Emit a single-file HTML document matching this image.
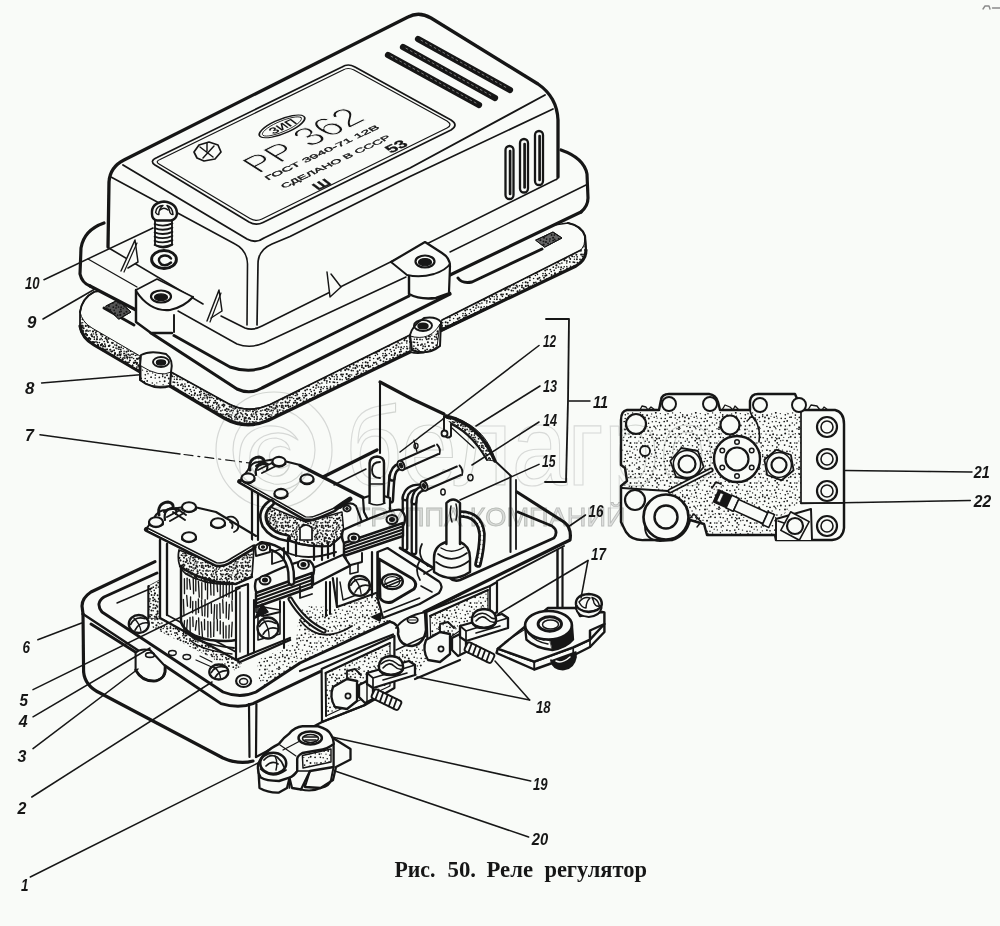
<!DOCTYPE html>
<html><head><meta charset="utf-8"><title>Рис. 50. Реле регулятор</title>
<style>
html,body{margin:0;padding:0;background:#f9fbf8;}
body{width:1000px;height:926px;overflow:hidden;font-family:"Liberation Sans",sans-serif;}
svg{display:block}
svg .ink path, svg .ink line, svg .ink ellipse, svg .ink circle, svg .ink rect, svg .ink polygon, svg .ink polyline{stroke:#161616;stroke-linecap:round;stroke-linejoin:round}
svg text{fill:#161616;stroke:none}
.num{font-family:"Liberation Sans",sans-serif;font-style:italic;font-weight:bold}
.cap{font-family:"Liberation Serif",serif;font-weight:bold}
</style></head><body>
<svg width="1000" height="926" viewBox="0 0 1000 926">
<defs><pattern id="st" width="40" height="40" patternUnits="userSpaceOnUse"><g fill="#161616" stroke="none"><circle cx="1.0" cy="2.9" r="0.91"/><circle cx="3.3" cy="6.0" r="0.80"/><circle cx="2.4" cy="10.8" r="0.67"/><circle cx="2.7" cy="14.9" r="0.80"/><circle cx="2.7" cy="16.6" r="0.80"/><circle cx="4.6" cy="21.3" r="0.98"/><circle cx="3.1" cy="24.7" r="0.65"/><circle cx="4.1" cy="31.2" r="0.78"/><circle cx="1.2" cy="33.8" r="0.65"/><circle cx="3.2" cy="37.8" r="0.82"/><circle cx="5.3" cy="1.3" r="0.72"/><circle cx="7.9" cy="5.4" r="0.65"/><circle cx="6.9" cy="10.2" r="0.87"/><circle cx="7.1" cy="15.3" r="0.95"/><circle cx="5.0" cy="17.5" r="0.90"/><circle cx="8.6" cy="23.2" r="0.79"/><circle cx="6.9" cy="26.5" r="0.75"/><circle cx="8.2" cy="31.0" r="0.94"/><circle cx="6.0" cy="34.2" r="0.65"/><circle cx="7.3" cy="38.8" r="0.79"/><circle cx="9.1" cy="2.1" r="0.89"/><circle cx="12.5" cy="5.7" r="0.80"/><circle cx="10.0" cy="10.8" r="0.83"/><circle cx="11.7" cy="14.0" r="0.65"/><circle cx="8.8" cy="18.6" r="0.99"/><circle cx="12.3" cy="21.7" r="0.70"/><circle cx="10.0" cy="27.3" r="0.92"/><circle cx="12.1" cy="31.0" r="0.72"/><circle cx="10.0" cy="35.2" r="0.85"/><circle cx="11.9" cy="37.4" r="0.84"/><circle cx="15.2" cy="0.7" r="0.92"/><circle cx="15.2" cy="40.7" r="0.92"/><circle cx="16.9" cy="7.1" r="0.91"/><circle cx="14.8" cy="10.1" r="0.84"/><circle cx="15.8" cy="12.8" r="0.95"/><circle cx="14.2" cy="17.2" r="0.82"/><circle cx="16.0" cy="21.6" r="0.76"/><circle cx="14.1" cy="26.3" r="0.86"/><circle cx="15.9" cy="28.7" r="0.72"/><circle cx="13.1" cy="34.2" r="0.95"/><circle cx="16.8" cy="38.8" r="0.93"/><circle cx="17.3" cy="2.9" r="0.88"/><circle cx="18.9" cy="4.7" r="0.65"/><circle cx="18.7" cy="9.3" r="0.68"/><circle cx="20.3" cy="13.6" r="0.67"/><circle cx="17.1" cy="18.1" r="0.70"/><circle cx="19.4" cy="22.6" r="0.80"/><circle cx="17.5" cy="25.9" r="0.65"/><circle cx="19.7" cy="29.8" r="0.71"/><circle cx="16.9" cy="35.1" r="0.82"/><circle cx="19.2" cy="38.3" r="0.93"/><circle cx="20.7" cy="0.7" r="0.69"/><circle cx="20.7" cy="40.7" r="0.69"/><circle cx="24.6" cy="5.1" r="0.89"/><circle cx="22.5" cy="10.1" r="0.72"/><circle cx="25.3" cy="14.8" r="0.83"/><circle cx="21.2" cy="18.4" r="0.78"/><circle cx="24.2" cy="21.5" r="0.87"/><circle cx="20.8" cy="25.5" r="0.99"/><circle cx="25.0" cy="29.5" r="0.95"/><circle cx="21.5" cy="35.2" r="0.91"/><circle cx="23.8" cy="37.3" r="0.64"/><circle cx="27.0" cy="0.7" r="0.93"/><circle cx="27.0" cy="40.7" r="0.93"/><circle cx="29.3" cy="6.2" r="0.70"/><circle cx="27.0" cy="11.3" r="0.89"/><circle cx="28.0" cy="13.7" r="0.76"/><circle cx="25.2" cy="18.5" r="0.80"/><circle cx="27.2" cy="20.9" r="0.88"/><circle cx="25.4" cy="26.0" r="0.76"/><circle cx="29.0" cy="31.1" r="0.65"/><circle cx="25.2" cy="33.5" r="1.00"/><circle cx="28.8" cy="37.6" r="0.72"/><circle cx="30.5" cy="2.9" r="0.98"/><circle cx="31.6" cy="7.0" r="0.89"/><circle cx="30.0" cy="11.3" r="0.72"/><circle cx="32.6" cy="12.9" r="0.70"/><circle cx="31.1" cy="17.2" r="0.91"/><circle cx="32.3" cy="22.9" r="0.77"/><circle cx="29.6" cy="25.4" r="0.95"/><circle cx="32.3" cy="31.2" r="0.96"/><circle cx="29.0" cy="34.1" r="0.68"/><circle cx="30.7" cy="36.8" r="0.95"/><circle cx="34.8" cy="2.9" r="0.76"/><circle cx="36.3" cy="6.8" r="0.78"/><circle cx="34.2" cy="9.2" r="0.67"/><circle cx="35.4" cy="15.1" r="0.84"/><circle cx="35.2" cy="17.9" r="0.74"/><circle cx="36.8" cy="22.9" r="0.64"/><circle cx="34.5" cy="24.9" r="0.68"/><circle cx="37.0" cy="28.7" r="0.73"/><circle cx="35.3" cy="33.8" r="0.68"/><circle cx="35.1" cy="37.3" r="0.91"/><circle cx="36.9" cy="3.1" r="0.78"/><circle cx="1.3" cy="7.1" r="0.75"/><circle cx="37.3" cy="9.9" r="0.68"/><circle cx="0.4" cy="12.7" r="0.64"/><circle cx="40.4" cy="12.7" r="0.64"/><circle cx="39.3" cy="17.4" r="0.85"/><circle cx="-0.7" cy="17.4" r="0.85"/><circle cx="39.9" cy="21.5" r="0.66"/><circle cx="-0.1" cy="21.5" r="0.66"/><circle cx="39.1" cy="27.3" r="0.99"/><circle cx="-0.9" cy="27.3" r="0.99"/><circle cx="38.9" cy="29.2" r="0.86"/><circle cx="39.3" cy="34.1" r="0.89"/><circle cx="-0.7" cy="34.1" r="0.89"/><circle cx="0.4" cy="37.3" r="0.83"/><circle cx="40.4" cy="37.3" r="0.83"/></g></pattern><pattern id="st2" width="40" height="40" patternUnits="userSpaceOnUse"><g fill="#161616" stroke="none"><circle cx="2.7" cy="2.7" r="0.74"/><circle cx="2.0" cy="5.5" r="1.02"/><circle cx="2.0" cy="7.2" r="0.97"/><circle cx="3.4" cy="11.0" r="0.78"/><circle cx="1.4" cy="13.6" r="1.01"/><circle cx="4.4" cy="18.1" r="0.94"/><circle cx="1.4" cy="19.4" r="0.73"/><circle cx="1.9" cy="23.0" r="0.85"/><circle cx="1.2" cy="27.2" r="0.93"/><circle cx="3.2" cy="28.5" r="0.73"/><circle cx="1.1" cy="31.4" r="0.93"/><circle cx="4.4" cy="35.8" r="0.79"/><circle cx="2.6" cy="39.2" r="1.02"/><circle cx="2.6" cy="-0.8" r="1.02"/><circle cx="5.7" cy="2.2" r="1.04"/><circle cx="5.8" cy="5.9" r="1.11"/><circle cx="3.7" cy="8.3" r="1.01"/><circle cx="6.1" cy="10.8" r="0.92"/><circle cx="5.7" cy="13.8" r="1.06"/><circle cx="5.8" cy="17.9" r="1.08"/><circle cx="4.5" cy="20.2" r="1.09"/><circle cx="6.7" cy="23.0" r="0.81"/><circle cx="4.2" cy="26.7" r="0.79"/><circle cx="7.2" cy="28.6" r="1.09"/><circle cx="4.1" cy="33.5" r="1.01"/><circle cx="6.2" cy="35.4" r="0.98"/><circle cx="4.8" cy="38.0" r="0.80"/><circle cx="7.7" cy="2.7" r="0.97"/><circle cx="8.1" cy="5.4" r="1.01"/><circle cx="8.7" cy="6.9" r="1.02"/><circle cx="8.1" cy="11.2" r="0.83"/><circle cx="7.0" cy="14.8" r="0.76"/><circle cx="9.3" cy="17.8" r="0.82"/><circle cx="6.9" cy="21.0" r="0.89"/><circle cx="9.8" cy="21.9" r="0.87"/><circle cx="6.8" cy="26.6" r="0.75"/><circle cx="10.4" cy="28.0" r="1.02"/><circle cx="6.5" cy="31.7" r="1.05"/><circle cx="8.3" cy="34.6" r="1.00"/><circle cx="7.4" cy="37.3" r="1.12"/><circle cx="9.9" cy="0.3" r="0.86"/><circle cx="9.9" cy="40.3" r="0.86"/><circle cx="12.6" cy="5.2" r="0.77"/><circle cx="10.3" cy="6.5" r="0.90"/><circle cx="13.0" cy="11.4" r="1.09"/><circle cx="11.4" cy="14.8" r="1.01"/><circle cx="12.2" cy="16.2" r="0.99"/><circle cx="10.3" cy="19.0" r="0.90"/><circle cx="13.3" cy="22.1" r="0.96"/><circle cx="10.5" cy="26.2" r="0.78"/><circle cx="13.5" cy="28.6" r="0.97"/><circle cx="10.6" cy="31.1" r="0.95"/><circle cx="11.4" cy="34.2" r="0.73"/><circle cx="9.9" cy="37.4" r="0.98"/><circle cx="13.9" cy="2.8" r="1.10"/><circle cx="16.7" cy="3.9" r="0.90"/><circle cx="13.2" cy="7.9" r="0.97"/><circle cx="16.2" cy="11.3" r="0.82"/><circle cx="13.6" cy="13.9" r="0.72"/><circle cx="14.2" cy="16.7" r="0.77"/><circle cx="14.4" cy="19.3" r="0.76"/><circle cx="14.6" cy="22.4" r="0.81"/><circle cx="13.9" cy="26.1" r="0.85"/><circle cx="15.8" cy="28.5" r="1.09"/><circle cx="15.0" cy="32.9" r="0.90"/><circle cx="15.4" cy="35.6" r="0.74"/><circle cx="13.6" cy="38.5" r="0.79"/><circle cx="15.9" cy="2.3" r="0.87"/><circle cx="18.5" cy="5.7" r="0.97"/><circle cx="16.4" cy="8.9" r="0.87"/><circle cx="17.2" cy="11.2" r="0.76"/><circle cx="16.4" cy="14.7" r="0.99"/><circle cx="17.2" cy="16.8" r="0.89"/><circle cx="16.9" cy="19.2" r="0.96"/><circle cx="17.4" cy="22.5" r="0.87"/><circle cx="18.0" cy="25.1" r="1.03"/><circle cx="17.7" cy="29.4" r="0.88"/><circle cx="16.8" cy="33.0" r="0.88"/><circle cx="17.5" cy="34.4" r="0.75"/><circle cx="17.8" cy="38.8" r="1.11"/><circle cx="20.5" cy="0.3" r="0.99"/><circle cx="20.5" cy="40.3" r="0.99"/><circle cx="22.3" cy="5.2" r="0.92"/><circle cx="19.6" cy="7.6" r="1.04"/><circle cx="20.9" cy="10.8" r="0.91"/><circle cx="21.2" cy="14.6" r="1.10"/><circle cx="22.4" cy="16.4" r="0.81"/><circle cx="20.0" cy="19.4" r="0.89"/><circle cx="22.0" cy="24.2" r="0.96"/><circle cx="20.8" cy="25.1" r="0.86"/><circle cx="22.8" cy="28.3" r="0.89"/><circle cx="18.9" cy="31.2" r="1.08"/><circle cx="22.8" cy="35.8" r="0.77"/><circle cx="19.5" cy="37.8" r="0.99"/><circle cx="23.5" cy="1.4" r="0.93"/><circle cx="23.6" cy="4.7" r="1.10"/><circle cx="23.7" cy="6.6" r="0.93"/><circle cx="25.2" cy="10.1" r="1.08"/><circle cx="23.0" cy="14.4" r="0.88"/><circle cx="25.9" cy="17.7" r="0.95"/><circle cx="22.2" cy="19.8" r="0.73"/><circle cx="24.9" cy="24.1" r="0.79"/><circle cx="23.1" cy="26.1" r="0.88"/><circle cx="25.2" cy="30.4" r="1.01"/><circle cx="23.0" cy="33.5" r="0.85"/><circle cx="25.3" cy="35.8" r="1.03"/><circle cx="24.0" cy="37.8" r="0.97"/><circle cx="25.9" cy="2.0" r="1.12"/><circle cx="28.0" cy="3.4" r="0.91"/><circle cx="26.7" cy="8.7" r="0.98"/><circle cx="28.5" cy="9.5" r="1.10"/><circle cx="26.7" cy="14.1" r="1.09"/><circle cx="28.7" cy="15.9" r="1.05"/><circle cx="26.8" cy="19.2" r="1.02"/><circle cx="27.9" cy="22.3" r="1.05"/><circle cx="25.2" cy="26.4" r="0.90"/><circle cx="27.1" cy="29.4" r="0.91"/><circle cx="25.4" cy="33.5" r="0.75"/><circle cx="26.4" cy="35.3" r="1.06"/><circle cx="26.6" cy="39.1" r="0.92"/><circle cx="26.6" cy="-0.9" r="0.92"/><circle cx="29.7" cy="1.1" r="0.83"/><circle cx="30.8" cy="3.4" r="0.75"/><circle cx="29.9" cy="6.8" r="1.02"/><circle cx="31.5" cy="10.5" r="0.99"/><circle cx="30.0" cy="14.8" r="0.77"/><circle cx="29.9" cy="16.6" r="0.91"/><circle cx="28.7" cy="18.7" r="0.95"/><circle cx="32.0" cy="22.7" r="0.94"/><circle cx="28.9" cy="26.0" r="1.07"/><circle cx="30.3" cy="29.6" r="0.92"/><circle cx="29.3" cy="33.4" r="0.75"/><circle cx="31.6" cy="34.9" r="0.98"/><circle cx="30.0" cy="38.9" r="0.88"/><circle cx="33.2" cy="0.5" r="0.98"/><circle cx="33.2" cy="40.5" r="0.98"/><circle cx="33.6" cy="4.7" r="1.06"/><circle cx="33.1" cy="8.0" r="0.84"/><circle cx="33.2" cy="10.7" r="0.81"/><circle cx="31.7" cy="15.0" r="0.77"/><circle cx="34.7" cy="16.6" r="0.87"/><circle cx="31.8" cy="18.9" r="0.91"/><circle cx="33.0" cy="22.9" r="0.84"/><circle cx="33.3" cy="27.2" r="0.90"/><circle cx="34.2" cy="30.3" r="0.85"/><circle cx="31.3" cy="31.6" r="0.80"/><circle cx="34.3" cy="35.1" r="0.86"/><circle cx="33.1" cy="37.8" r="1.05"/><circle cx="35.7" cy="1.3" r="1.05"/><circle cx="36.5" cy="5.6" r="1.09"/><circle cx="35.4" cy="8.2" r="1.10"/><circle cx="37.6" cy="11.4" r="1.07"/><circle cx="36.5" cy="14.5" r="1.12"/><circle cx="36.4" cy="17.2" r="0.99"/><circle cx="35.0" cy="19.7" r="0.79"/><circle cx="38.1" cy="22.7" r="0.91"/><circle cx="36.4" cy="25.3" r="1.11"/><circle cx="36.0" cy="28.0" r="0.86"/><circle cx="35.0" cy="33.4" r="1.08"/><circle cx="37.6" cy="35.2" r="0.94"/><circle cx="34.7" cy="39.3" r="0.88"/><circle cx="34.7" cy="-0.7" r="0.88"/><circle cx="37.9" cy="1.9" r="0.78"/><circle cx="39.5" cy="5.7" r="0.76"/><circle cx="-0.5" cy="5.7" r="0.76"/><circle cx="37.5" cy="6.9" r="0.82"/><circle cx="39.8" cy="10.1" r="0.86"/><circle cx="-0.2" cy="10.1" r="0.86"/><circle cx="37.8" cy="13.2" r="0.97"/><circle cx="39.6" cy="16.6" r="1.03"/><circle cx="-0.4" cy="16.6" r="1.03"/><circle cx="37.3" cy="19.1" r="1.06"/><circle cx="39.8" cy="23.8" r="0.77"/><circle cx="-0.2" cy="23.8" r="0.77"/><circle cx="38.5" cy="27.0" r="0.86"/><circle cx="0.7" cy="29.5" r="0.88"/><circle cx="40.7" cy="29.5" r="0.88"/><circle cx="39.7" cy="32.0" r="0.91"/><circle cx="-0.3" cy="32.0" r="0.91"/><circle cx="0.3" cy="34.9" r="1.06"/><circle cx="40.3" cy="34.9" r="1.06"/><circle cx="38.7" cy="38.7" r="0.94"/></g></pattern><pattern id="st3" width="40" height="40" patternUnits="userSpaceOnUse"><g fill="#161616" stroke="none"><circle cx="2.4" cy="5.4" r="0.58"/><circle cx="11.0" cy="16.3" r="0.50"/><circle cx="0.1" cy="28.4" r="0.55"/><circle cx="40.1" cy="28.4" r="0.55"/><circle cx="7.3" cy="40.0" r="0.61"/><circle cx="7.3" cy="-0.0" r="0.61"/><circle cx="18.4" cy="4.8" r="0.65"/><circle cx="16.5" cy="16.3" r="0.71"/><circle cx="15.2" cy="27.4" r="0.66"/><circle cx="15.6" cy="37.6" r="0.64"/><circle cx="23.0" cy="0.3" r="0.71"/><circle cx="23.0" cy="40.3" r="0.71"/><circle cx="29.7" cy="17.2" r="0.72"/><circle cx="27.1" cy="29.2" r="0.59"/><circle cx="33.0" cy="34.4" r="0.73"/><circle cx="38.8" cy="1.0" r="0.52"/><circle cx="38.8" cy="41.0" r="0.52"/><circle cx="37.2" cy="19.7" r="0.60"/><circle cx="36.3" cy="23.0" r="0.62"/><circle cx="38.9" cy="33.5" r="0.64"/></g></pattern><filter id="soft" x="0" y="0" width="1000" height="926" filterUnits="userSpaceOnUse"><feGaussianBlur stdDeviation="0.4"/></filter></defs>
<rect x="0" y="0" width="1000" height="926" fill="#f9fbf8" stroke="none"/>
<g class="ink" fill="none" filter="url(#soft)">
<path d="M94,292 Q82,298 80,312 L80,328 Q82,338 94,345 L140,372 L140,380 Q150,388 167,386 L170,386 L224,418 Q245,430 268,420.5 L410,352 Q424,356 438,346 L440,330 L576,266 Q586,260 586,250 L585,236 Q582,226 568,223 Z" stroke-width="1.59" fill="#f9fbf8" />
<path d="M80,312 L80,328 Q82,338 94,345 L140,372 L140,356 L92,328 Q82,322 80,312Z" stroke-width="0.98" fill="url(#st2)" />
<path d="M80,312 L80,328 Q82,338 94,345 L140,372 L140,356 L92,328 Q82,322 80,312Z" stroke-width="0.12" fill="url(#st)" style="stroke:none"/>
<path d="M80,312 L80,328 Q82,338 94,345 L140,372 L140,364 L92,336 Q82,330 80,318Z" stroke-width="0.12" fill="url(#st2)" style="stroke:none"/>
<path d="M171,372 L229,404 Q248,414 270,404.5 L410,335 L410,352 L268,420.5 Q245,430 224,418 L171,386Z" stroke-width="0.98" fill="url(#st2)" />
<path d="M200,389 L229,404 Q248,414 270,404.5 L300,390 L300,405 L268,420.5 Q245,430 224,418 L200,403Z" stroke-width="0.12" fill="url(#st)" style="stroke:none"/>
<path d="M442,320 L581,250 Q585,246 585,238 L586,250 Q586,260 576,266 L442,331Z" stroke-width="0.98" fill="url(#st2)" />
<path d="M80,326 Q82,338 94,345 L140,372" stroke-width="3.17" fill="none" />
<path d="M170,386 L224,418 Q245,430 268,420.5 L410,352" stroke-width="3.42" fill="none" />
<path d="M440,331 L576,266 Q586,260 586,250" stroke-width="3.17" fill="none" />
<path d="M94,292 Q82,298 80,312" stroke-width="1.95" fill="none" />
<path d="M171,372 L229,404 Q248,414 270,404.5 L410,335" stroke-width="1.71" fill="none" />
<path d="M442,320 L581,250" stroke-width="1.59" fill="none" />
<path d="M568,223 Q582,226 585,236 L586,250" stroke-width="2.2" fill="none" />
<path d="M458,278 Q462,284 472,282 L542,249" stroke-width="2.93" fill="none" />
<path d="M104,308 L134,325" stroke-width="2.93" fill="none" />
<path d="M106,306 L118,300 L131,312 L119,319Z" stroke-width="0.98" fill="#555" />
<path d="M106,306 L118,300 L131,312 L119,319Z" stroke-width="0.98" fill="url(#st2)" />
<path d="M536,240 L553,232 L562,238 L545,247Z" stroke-width="0.98" fill="#666" />
<path d="M536,240 L553,232 L562,238 L545,247Z" stroke-width="0.98" fill="url(#st2)" />
<path d="M141,355 Q150,350 166,354 Q174,360 171,372 L170,386 Q158,390 146,384 L140,380 L140,366 Z" stroke-width="1.95" fill="#f9fbf8" />
<path d="M141,366 L141,380 Q150,388 167,386 L170,386 L171,372 Q160,378 141,366Z" stroke-width="0.98" fill="url(#st)" />
<ellipse cx="161" cy="362" rx="8" ry="5" stroke-width="1.95" fill="none" />
<ellipse cx="161" cy="362.5" rx="4.5" ry="2.5" stroke-width="1.46" fill="#161616" />
<path d="M410,335 Q412,326 424,318 Q436,316 441,322 L440,346 Q428,356 412,350 Z" stroke-width="1.95" fill="#f9fbf8" />
<path d="M410,336 L411,350 Q424,356 437,347 L440,324 Q430,342 410,336Z" stroke-width="0.98" fill="url(#st2)" />
<ellipse cx="423" cy="325.5" rx="9" ry="5.5" stroke-width="1.95" fill="none" />
<ellipse cx="423" cy="326" rx="5" ry="2.8" stroke-width="1.46" fill="#161616" />
<path d="M104,223 Q84,230 81,248 L80,274 Q82,283 90,286 L136,310 L136,322 L151,333 L237,389 Q250,395 262,388 L450,294 L450,275 L581,212 Q588,206 588,198 L587,174 Q584,158 561,150 L430,100 L110,180 Z" stroke-width="0.12" fill="#f9fbf8" style="stroke:none"/>
<path d="M104,223 Q84,230 81,248 L80,274 Q82,283 90,286" stroke-width="3.17" fill="none" />
<path d="M90,286 L136,310" stroke-width="3.17" fill="none" />
<path d="M88,259 L137,287" stroke-width="1.34" fill="none" />
<path d="M151,333 L237,389 Q250,395 262,388 L450,294" stroke-width="3.17" fill="none" />
<path d="M174,335.5 L230,367 Q250,374 268,366 L409,296" stroke-width="2.93" fill="none" />
<path d="M178,311 L237,344 Q250,349 264,343 L406,277" stroke-width="1.46" fill="none" />
<path d="M561,150 Q584,158 587,174 L588,198 Q588,206 581,212" stroke-width="3.17" fill="none" />
<path d="M581,212 L450,275" stroke-width="3.17" fill="none" />
<path d="M586,185 L450,252" stroke-width="1.46" fill="none" />
<path d="M108,247 L109,182 Q110,167 124,160 L408,17 Q419,11 431,18 L538,84 Q557,97 558,120 L558,177 Q557,180 555,180 L262,326 Q253,331 245,328 L221,316 L108,247Z" stroke-width="0.12" fill="#f9fbf8" style="stroke:none"/>
<path d="M108,247 L109,182 Q110,167 124,160 L408,17 Q419,11 431,18 L538,84 Q557,97 558,120 L558,177" stroke-width="3.29" fill="none" />
<path d="M558,177 Q557,180 555,180 L262,326 Q253,331 245,328 L221,316" stroke-width="1.59" fill="none" />
<path d="M108,247.5 L203,304" stroke-width="1.59" fill="none" />
<path d="M123,165 L247,239 Q256,244 264,238 L330,206 L410,168 L545,95" stroke-width="1.83" fill="none" />
<path d="M111,177 L235,244 Q247,250 247.5,264 L247,325" stroke-width="1.59" fill="none" />
<path d="M553,109 L410,176.5 L330,216.5 L290,236.5 L272,244 Q258,250 258,264 L257,325" stroke-width="1.71" fill="none" />
<path d="M157,157.5 L342,67 Q348,63 355,67 L451,120 Q459,125 451,130 L263,222.5 Q256,226 249,222 L155,165 Q149,161 157,157.5Z" stroke-width="1.71" fill="none" />
<path d="M160,159.5 L343,70 Q348,67 354,70 L447,121 Q453,125 447,128 L262,219 Q256,222 250,218.5 L159,164 Q155,161.5 160,159.5Z" stroke-width="1.22" fill="none" />
<line x1="418" y1="39" x2="510" y2="90" stroke-width="6.2"/>
<line x1="421" y1="40.2" x2="507" y2="88" stroke-width="1" style="stroke:#777;stroke-dasharray:2 3"/>
<line x1="403" y1="47" x2="495" y2="98" stroke-width="6.2"/>
<line x1="406" y1="48.2" x2="492" y2="96" stroke-width="1" style="stroke:#777;stroke-dasharray:2 3"/>
<line x1="388" y1="55" x2="479" y2="105" stroke-width="6.2"/>
<line x1="391" y1="56.2" x2="476" y2="103" stroke-width="1" style="stroke:#777;stroke-dasharray:2 3"/>
<rect x="505.5" y="146" width="8.0" height="53" rx="4.0" stroke-width="2.3"/>
<line x1="510.1" y1="151" x2="510.1" y2="194" stroke-width="2.68"/>
<rect x="520.0" y="139" width="8.0" height="53.5" rx="4.0" stroke-width="2.3"/>
<line x1="524.6" y1="144" x2="524.6" y2="187.5" stroke-width="2.68"/>
<rect x="535.0" y="131" width="8.0" height="54" rx="4.0" stroke-width="2.3"/>
<line x1="539.6" y1="136" x2="539.6" y2="180" stroke-width="2.68"/>
<path d="M121,271 L135,240 L138,262 L128,268" stroke-width="1.46" fill="#f9fbf8" />
<path d="M124,272 L137,243" stroke-width="1.22" fill="none" />
<path d="M207,321 L219,290 L222,311 L211,318" stroke-width="1.46" fill="#f9fbf8" />
<path d="M210,322 L221,293" stroke-width="1.22" fill="none" />
<path d="M327,272 L330,297 L341,287 L331,274" stroke-width="1.46" fill="#f9fbf8" />
<path d="M136,290 L157,279 L193,297 Q186,308 174,310 L174,332 L152,333 L136,322Z" stroke-width="0.12" fill="#f9fbf8" style="stroke:none"/>
<path d="M136,290 L157,279 L193,297" stroke-width="1.59" fill="none" />
<path d="M193,297 Q184,307 170,310 Q150,312 136,291" stroke-width="2.2" fill="none" />
<path d="M136,290 L136,322 L151,333 L172,333" stroke-width="2.44" fill="none" />
<line x1="174" y1="315" x2="174" y2="332" stroke-width="1.95"/>
<ellipse cx="161" cy="296.5" rx="10" ry="6" stroke-width="2.2" fill="none" />
<ellipse cx="161" cy="297.3" rx="6.5" ry="3.4" stroke-width="1.22" fill="#161616" />
<path d="M391,262 L425,242 L442,253 Q450,258 450,266 L450,293 Q436,300 420,299 L409,295 L408,277Z" stroke-width="0.12" fill="#f9fbf8" style="stroke:none"/>
<path d="M391,262 L425,242 L442,253 Q450,258 450,266 L449,292" stroke-width="2.2" fill="none" />
<path d="M391,262 L407,275 Q420,278 434,274 Q446,270 450,264" stroke-width="1.83" fill="none" />
<path d="M409,277 L409,294 Q420,300 436,298 L450,293" stroke-width="2.44" fill="none" />
<ellipse cx="425" cy="261.5" rx="9.5" ry="6" stroke-width="2.2" fill="none" />
<ellipse cx="425" cy="262.2" rx="6.5" ry="3.6" stroke-width="1.22" fill="#161616" />
<path d="M155,220 L155,245 Q163.5,250 172,245 L172,220Z" stroke-width="1.83" fill="#f9fbf8" />
<path d="M154.6,224 Q163.5,227.4 172.4,223.4" stroke-width="1.83" fill="none" />
<path d="M154.6,228.2 Q163.5,231.6 172.4,227.6" stroke-width="1.83" fill="none" />
<path d="M154.6,232.4 Q163.5,235.8 172.4,231.8" stroke-width="1.83" fill="none" />
<path d="M154.6,236.6 Q163.5,240.0 172.4,236.0" stroke-width="1.83" fill="none" />
<path d="M154.6,240.8 Q163.5,244.20000000000002 172.4,240.20000000000002" stroke-width="1.83" fill="none" />
<path d="M154.6,245 Q163.5,248.4 172.4,244.4" stroke-width="1.83" fill="none" />
<path d="M152,214 Q151,203 164,201.5 Q177,203 177,214 Q176,219.5 171,220.5 L157,220.5 Q152,219.5 152,214Z" stroke-width="2.44" fill="#f9fbf8" />
<path d="M155.6,212.5 Q156.5,205.5 163,205.5 Q158.6,209 158.8,214.5 Q157,215 155.6,212.5Z" stroke-width="1.46" fill="none" />
<path d="M167,205.5 Q172.4,207 173,214.5 Q170,214.5 169.6,211 Q169,208 167,205.5Z" stroke-width="1.46" fill="none" />
<path d="M160,210 Q164,206.5 168,210" stroke-width="1.34" fill="none" />
<ellipse cx="164" cy="259.5" rx="12.4" ry="9" stroke-width="2.93" fill="#f9fbf8" />
<path d="M171,258.5 Q167,254 161,256.5 Q156.5,260 161.5,264.5 Q166.5,266.5 171,262.5" stroke-width="2.44" fill="none" />
<path d="M152.5,262 Q158,270 170,268" stroke-width="1.59" fill="none" />
<text transform="matrix(0.894,-0.447,0.846,0.533,258.4,173.9)" x="0" y="0" font-size="33" textLength="47" lengthAdjust="spacingAndGlyphs" style="font-family:'Liberation Sans',sans-serif;font-weight:normal;fill:#161616;stroke:#f9fbf8;stroke-width:1.0;">РР</text>
<text transform="matrix(0.894,-0.447,0.846,0.533,310,147.8)" x="0" y="0" font-size="36" textLength="64" lengthAdjust="spacingAndGlyphs" style="font-family:'Liberation Sans',sans-serif;font-weight:normal;fill:#161616;stroke:#f9fbf8;stroke-width:1.1;">362</text>
<text transform="matrix(0.905,-0.424,0.80,0.60,268,180.5)" x="0" y="0" font-size="7.8" textLength="124" lengthAdjust="spacingAndGlyphs" style="font-family:'Liberation Sans',sans-serif;font-weight:normal;fill:#161616;stroke:#161616;stroke-width:0.35;">ГОСТ 3940-71 12В</text>
<text transform="matrix(0.905,-0.424,0.80,0.60,284,188.5)" x="0" y="0" font-size="7.8" textLength="119" lengthAdjust="spacingAndGlyphs" style="font-family:'Liberation Sans',sans-serif;font-weight:normal;fill:#161616;stroke:#161616;stroke-width:0.35;">СДЕЛАНО В СССР</text>
<text transform="matrix(0.905,-0.424,0.80,0.60,318,190.5)" x="0" y="0" font-size="13" textLength="16" lengthAdjust="spacingAndGlyphs" style="font-family:'Liberation Sans',sans-serif;font-weight:bold;fill:#161616;stroke:#161616;stroke-width:0.35;">Ш</text>
<text transform="matrix(0.905,-0.424,0.80,0.60,391,153.5)" x="0" y="0" font-size="14" textLength="20" lengthAdjust="spacingAndGlyphs" style="font-family:'Liberation Sans',sans-serif;font-weight:bold;fill:#161616;stroke:#161616;stroke-width:0.35;">53</text>
<g transform="matrix(0.905,-0.424,0.80,0.60,282,126.4)">
<ellipse cx="0" cy="0" rx="24" ry="8.5" stroke-width="1.5"/>
<ellipse cx="0" cy="0" rx="21" ry="6.2" stroke-width="0.8"/>
<text x="-13" y="4.2" font-size="11.5" textLength="27" lengthAdjust="spacingAndGlyphs" style="font-family:'Liberation Sans',sans-serif;font-weight:bold;fill:#161616;stroke:none">ЗИП</text>
</g>
<path d="M194,152 L199,145 L209,142 L218,145 L221,152 L215,159 L204,161 L197,158Z" stroke-width="1.71" fill="none" />
<path d="M200,147 L213,157 M214,146 L203,158 M207,143 L207,151" stroke-width="1.46" fill="none" />
<path d="M627,410 L659,410 L661,400 Q662,394 669,394 L709,394 Q716,395 718,402 L720,410 L750,410 L750,401 Q751,394 758,394 L795,394 L802,410 L835,410 Q844,412 844,424 L844,528 Q843,539 832,540 L776,540 L775,535 L707,535 L704,524 L690,520 Q686,536 672,540 L645,540 Q632,541 626,532 L621,522 L621,486 L627,481 L625,468 L621,465 L621,420 Q621,411 627,410Z" stroke-width="2.44" fill="#f9fbf8" />
<path d="M623,412 L801,412 L801,503 L776,519 L775,535 L707,535 L704,524 L690,519 Q688,500 668,492 L623,488 L627,481 L625,468 L622,465Z" stroke-width="0.12" fill="url(#st)" style="stroke:none"/>
<path d="M623,412 L801,412 L801,503 L776,519 L775,535 L707,535 L704,524 L690,519 Q688,500 668,492 L623,488 L627,481 L625,468 L622,465Z" stroke-width="0.12" fill="url(#st3)" style="stroke:none"/>
<path d="M622,488 L668,491" stroke-width="1.83" fill="none" />
<line x1="801" y1="410" x2="801" y2="503" stroke-width="1.71"/>
<path d="M776,540 L776,519 L811,509 L812,540" stroke-width="1.95" fill="#f9fbf8" />
<line x1="801" y1="503" x2="844" y2="503" stroke-width="1.46"/>
<ellipse cx="669" cy="404" rx="7" ry="7" stroke-width="1.95" fill="#f9fbf8" />
<ellipse cx="710" cy="404" rx="7" ry="7" stroke-width="1.95" fill="#f9fbf8" />
<ellipse cx="760" cy="405" rx="7" ry="7" stroke-width="1.95" fill="#f9fbf8" />
<ellipse cx="799" cy="405" rx="7" ry="7" stroke-width="1.95" fill="#f9fbf8" />
<path d="M640,410 l2,-4 l4,1 l2,3 M648,410 l3,-3 l4,3 M722,410 l3,-5 l5,2 l3,3 M733,410 l2,-4 l4,4 M808,410 l3,-5 l6,1 l3,4 M822,410 l2,-3 l4,3" stroke-width="1.34" fill="none" />
<ellipse cx="636" cy="424" rx="10" ry="10" stroke-width="2.2" fill="#f9fbf8" />
<ellipse cx="730" cy="425" rx="9.5" ry="9.5" stroke-width="2.2" fill="#f9fbf8" />
<ellipse cx="635" cy="500" rx="10" ry="10" stroke-width="2.2" fill="#f9fbf8" />
<ellipse cx="645" cy="451" rx="5" ry="5" stroke-width="1.83" fill="#f9fbf8" />
<ellipse cx="827" cy="427" rx="10" ry="10" stroke-width="2.2" fill="#f9fbf8" />
<ellipse cx="827" cy="427" rx="6" ry="6" stroke-width="1.59" fill="none" />
<ellipse cx="827" cy="459" rx="10" ry="10" stroke-width="2.2" fill="#f9fbf8" />
<ellipse cx="827" cy="459" rx="6" ry="6" stroke-width="1.59" fill="none" />
<ellipse cx="827" cy="491" rx="10" ry="10" stroke-width="2.2" fill="#f9fbf8" />
<ellipse cx="827" cy="491" rx="6" ry="6" stroke-width="1.59" fill="none" />
<ellipse cx="827" cy="526" rx="10" ry="10" stroke-width="2.2" fill="#f9fbf8" />
<ellipse cx="827" cy="526" rx="6" ry="6" stroke-width="1.59" fill="none" />
<polygon points="703.7,467.0 692.8,480.0 676.1,477.0 670.3,461.0 681.2,448.0 697.9,451.0" stroke-width="1.8" fill="#f9fbf8"/>
<ellipse cx="687" cy="464" rx="13.600000000000001" ry="13.600000000000001" stroke-width="1.46" fill="none" />
<ellipse cx="687" cy="464" rx="8.5" ry="8.5" stroke-width="2.2" fill="#f9fbf8" />
<polygon points="793.6,470.3 781.7,480.3 767.1,475.0 764.4,459.7 776.3,449.7 790.9,455.0" stroke-width="1.8" fill="#f9fbf8"/>
<ellipse cx="779" cy="465" rx="12.4" ry="12.4" stroke-width="1.46" fill="none" />
<ellipse cx="779" cy="465" rx="7.5" ry="7.5" stroke-width="2.2" fill="#f9fbf8" />
<ellipse cx="737" cy="459" rx="23" ry="23" stroke-width="2.44" fill="#f9fbf8" />
<ellipse cx="737" cy="459" rx="11.5" ry="11.5" stroke-width="2.2" fill="none" />
<ellipse cx="751.7" cy="467.5" rx="2.3" ry="2.3" stroke-width="1.46" fill="none" />
<ellipse cx="737.0" cy="476.0" rx="2.3" ry="2.3" stroke-width="1.46" fill="none" />
<ellipse cx="722.3" cy="467.5" rx="2.3" ry="2.3" stroke-width="1.46" fill="none" />
<ellipse cx="722.3" cy="450.5" rx="2.3" ry="2.3" stroke-width="1.46" fill="none" />
<ellipse cx="737.0" cy="442.0" rx="2.3" ry="2.3" stroke-width="1.46" fill="none" />
<ellipse cx="751.7" cy="450.5" rx="2.3" ry="2.3" stroke-width="1.46" fill="none" />
<path d="M750,410 Q751,416 755,419 Q761,430 759,442" stroke-width="1.59" fill="none" />
<path d="M748,420 l4,-4 l3,5" stroke-width="1.22" fill="none" />
<path d="M670,491 L711,470" stroke-width="5.12" fill="none" />
<path d="M670,491 L711,470" stroke-width="1.6" style="stroke:#f9fbf8"/>
<ellipse cx="666" cy="517" rx="22.5" ry="22.5" stroke-width="2.68" fill="#f9fbf8" />
<ellipse cx="666" cy="517" rx="11.5" ry="11.5" stroke-width="2.44" fill="none" />
<path d="M645,527 Q645,540 660,541 L672,540" stroke-width="1.83" fill="none" />
<path d="M688,520 l6,-6 l7,8 l-4,5" stroke-width="1.46" fill="none" />
<g transform="rotate(24.5 720 497)">
<rect x="716" y="491" width="14" height="13" stroke-width="1.6" fill="#161616"/>
<rect x="719" y="493" width="3" height="9" stroke-width="0.5" fill="#f9fbf8"/>
<rect x="730" y="490.5" width="8" height="14" stroke-width="1.6" fill="#f9fbf8"/>
<rect x="738" y="491.5" width="32" height="12" stroke-width="1.6" fill="#f9fbf8"/>
<rect x="770" y="490.5" width="7" height="14" stroke-width="1.6" fill="#f9fbf8"/>
</g>
<path d="M778,521 l6,2 M712,488 l4,-6 l5,2" stroke-width="1.59" fill="none" />
<rect x="784.5" y="515.5" width="21" height="21" stroke-width="1.6" fill="#f9fbf8" transform="rotate(28 795 526)"/>
<ellipse cx="795" cy="526" rx="8" ry="8" stroke-width="2.2" fill="#f9fbf8" />
<path d="M155,562 L91,592 Q82,598 82,606 L83.6,672 Q85,686 100,693 L223,758 Q239,765 256,759 L322,722 L500,642 L562,608 L570,540 Q573,530 564,522 L517,492 L380,560Z" stroke-width="0.12" fill="#f9fbf8" style="stroke:none"/>
<path d="M380,382 L445,414 L495,461 L512,477 L516,552 L380,600Z" stroke-width="0.12" fill="#f9fbf8" style="stroke:none"/>
<line x1="380" y1="382" x2="380" y2="453" stroke-width="2.07"/>
<path d="M380,382 L412,399 L444,414" stroke-width="3.17" fill="none" />
<path d="M494,460 L511,476" stroke-width="1.83" fill="none" />
<line x1="510.5" y1="476" x2="510.5" y2="552" stroke-width="2.07"/>
<line x1="516" y1="480" x2="516" y2="549" stroke-width="1.83"/>
<path d="M443,419 Q470,428 487,460 L495,461 Q488,430 456,418 Z" stroke-width="0.98" fill="url(#st2)" />
<path d="M443,419 Q470,428 487,460 L495,461 Q488,430 456,418 Z" stroke-width="0.12" fill="url(#st)" style="stroke:none"/>
<path d="M446,416 Q480,424 495,461" stroke-width="3.42" fill="none" />
<path d="M444,421 Q470,430 487,460" stroke-width="1.95" fill="none" />
<path d="M444,416 L444,434 Q447,440 451,436 L451,424" stroke-width="1.95" fill="#f9fbf8" />
<ellipse cx="444.5" cy="433.5" rx="3" ry="3" stroke-width="1.83" fill="#f9fbf8" />
<path d="M452,428 L474,448" stroke-width="1.22" fill="none" />
<path d="M323,477 L377,450" stroke-width="3.17" fill="none" />
<path d="M334,485 L366,469" stroke-width="1.46" fill="none" />
<ellipse cx="470.4" cy="477.6" rx="2.6" ry="3.2" stroke-width="1.46" fill="none" />
<ellipse cx="443" cy="492" rx="2.2" ry="3" stroke-width="1.46" fill="none" />
<ellipse cx="416" cy="446" rx="2" ry="2.6" stroke-width="1.34" fill="none" />
<path d="M414,440 L417,452" stroke-width="1.22" fill="none" />
<path d="M258,660 L296,642 L300,606 L332,607 L376,593 L380,600 L384,618 L390,621.6 L300,663 L264,686 Q256,680 258,660Z" stroke-width="0.12" fill="url(#st)" style="stroke:none"/>
<path d="M258,660 L296,642 L300,606 L332,607 L376,593 L380,600 L384,618 L390,621.6 L300,663 L264,686 Q256,680 258,660Z" stroke-width="0.12" fill="url(#st3)" style="stroke:none"/>
<path d="M150,612 L160,617 L242,663 L238,672 L150,626Z" stroke-width="0.12" fill="url(#st2)" style="stroke:none"/>
<path d="M155,561.6 L91,592 Q82,598 82,606 L83,614" stroke-width="3.17" fill="none" />
<path d="M83,614 L139,651" stroke-width="2.44" fill="none" />
<path d="M91,624 L137,653" stroke-width="2.93" fill="none" />
<path d="M164.5,665.5 L221,703.6 Q239,709 253,703.6 L320,671.6" stroke-width="2.93" fill="none" />
<path d="M157,573 L104,597 Q95,603 102,612 L223,692 Q240,699 256,692 L300,663 L389.6,621.6" stroke-width="2.93" fill="none" />
<path d="M300,671 L393,634.5" stroke-width="2.2" fill="none" />
<path d="M83,614 L83.6,672 Q85,686 100,693 L223,758 Q239,765 253,761" stroke-width="3.17" fill="none" />
<line x1="249" y1="704" x2="249.5" y2="757" stroke-width="2.2"/>
<line x1="256.4" y1="704" x2="256" y2="757" stroke-width="2.2"/>
<path d="M117,603 L152,588" stroke-width="1.46" fill="none" />
<path d="M148.4,586 L148.4,618" stroke-width="1.95" fill="none" />
<path d="M148.4,586 L159.6,580 L159.6,619 L148.4,618Z" stroke-width="0.73" fill="url(#st2)" />
<path d="M517,492 L564,522 Q572,528 570,540 L424,612" stroke-width="3.17" fill="none" />
<path d="M518,512 L552,526 Q559,531 554,538 L460,580 Q454,582 450,578 L400,548" stroke-width="2.68" fill="none" />
<path d="M564,546 L497,581" stroke-width="1.95" fill="none" />
<line x1="557.5" y1="550" x2="557.5" y2="607" stroke-width="2.44"/>
<line x1="562.5" y1="548" x2="562.5" y2="607" stroke-width="2.2"/>
<path d="M389.6,621.6 Q400,624 398,634 Q400,646 412,646 Q424,644 426,630 L425,612" stroke-width="2.44" fill="#f9fbf8" />
<path d="M396,628 Q404,616 426,612" stroke-width="1.83" fill="none" />
<ellipse cx="412.6" cy="620" rx="5.2" ry="3.2" stroke-width="1.83" fill="none" />
<path d="M409,620 L416,620" stroke-width="1.22" fill="none" />
<line x1="425" y1="612" x2="460" y2="594.4" stroke-width="2.68"/>
<path d="M387.5,548 L439,581.5 Q444,586 439,593 L419.6,604 L383,618 L377.6,598 L377.6,552Z" stroke-width="2.2" fill="#f9fbf8" />
<path d="M379,559 L412.6,578.8 Q418,584 414,589 L392,602 Q384,604 380,598 Z" stroke-width="2.93" fill="#f9fbf8" />
<path d="M421,586 L432,592 M384,612 L419.6,598" stroke-width="1.59" fill="none" />
<ellipse cx="392.3" cy="581.6" rx="10.5" ry="7.5" stroke-width="2.44" fill="#f9fbf8" />
<path d="M384,584.5 L400,578 M385.5,587 L401,580.5" stroke-width="1.59" fill="none" />
<ellipse cx="392.3" cy="581.6" rx="7.5" ry="5" stroke-width="1.22" fill="none" />
<path d="M372,617 L381,613 L380,621Z" stroke-width="1.71" fill="#161616" />
<path d="M460,514 Q480,514 482,534 Q482,548 478,564" stroke-width="7.56" fill="none" />
<path d="M460,514 Q480,514 482,534 Q482,548 478,564" stroke-width="2.2" style="stroke:#f9fbf8;stroke-dasharray:2.5 2"/>
<path d="M434,558 Q434,546 446,542 L460,542 Q470,546 470,558 L470,572 Q452,584 434,572Z" stroke-width="2.44" fill="#f9fbf8" />
<path d="M436,562 Q452,574 469,561" stroke-width="1.71" fill="none" />
<path d="M438,554 Q452,564 467,553" stroke-width="1.71" fill="none" />
<path d="M441,548 Q452,555 464,547" stroke-width="1.46" fill="none" />
<path d="M446.4,544 L446.4,503 Q453,496 460,503 L460,544" stroke-width="2.44" fill="#f9fbf8" />
<path d="M451,506 Q449,514 452,522 M456,504 Q458,512 456,520" stroke-width="1.46" fill="none" />
<path d="M428,566 Q416,556 422,544 M424,574 L434,568 M420,560 Q414,570 420,580" stroke-width="1.71" fill="none" />
<path d="M392,476 Q391,488 390.4,500" stroke-width="7.56" fill="none" />
<path d="M392,476 Q391,488 390.4,500" stroke-width="2.6" style="stroke:#f9fbf8"/>
<path d="M400,466 Q393,468 392,478" stroke-width="7.56" fill="none" />
<path d="M400,466 Q393,468 392,478" stroke-width="2.6" style="stroke:#f9fbf8"/>
<path d="M405,497 L405,548" stroke-width="6.83" fill="none" />
<path d="M405,497 L405,548" stroke-width="2.2" style="stroke:#f9fbf8"/>
<path d="M422,487 Q407,486 405,498" stroke-width="6.83" fill="none" />
<path d="M422,487 Q407,486 405,498" stroke-width="2.2" style="stroke:#f9fbf8"/>
<path d="M414,500 L414,552" stroke-width="6.83" fill="none" />
<path d="M414,500 L414,552" stroke-width="2.2" style="stroke:#f9fbf8"/>
<path d="M424,488 Q414.5,490 414,502" stroke-width="6.83" fill="none" />
<path d="M424,488 Q414.5,490 414,502" stroke-width="2.2" style="stroke:#f9fbf8"/>
<line x1="401" y1="465.5" x2="437" y2="449.5" stroke-width="11.6" style="stroke-linecap:butt"/>
<line x1="401" y1="465.5" x2="438.3" y2="448.9" stroke-width="7.2" style="stroke:#f9fbf8;stroke-linecap:butt"/>
<ellipse cx="401" cy="465.5" rx="3.2" ry="5" stroke-width="1.95" fill="#f9fbf8" transform="rotate(-24 401 465.5)" />
<ellipse cx="401" cy="465.5" rx="1.4" ry="2.4" stroke-width="1.22" fill="#161616" transform="rotate(-24 401 465.5)" />
<path d="M437,444.5 Q441,448.5 439.5,454.1" stroke-width="1.8"/>
<line x1="424" y1="486" x2="459.5" y2="470.5" stroke-width="11.6" style="stroke-linecap:butt"/>
<line x1="424" y1="486" x2="460.8" y2="469.9" stroke-width="7.2" style="stroke:#f9fbf8;stroke-linecap:butt"/>
<ellipse cx="424" cy="486" rx="3.2" ry="5" stroke-width="1.95" fill="#f9fbf8" transform="rotate(-24 424 486)" />
<ellipse cx="424" cy="486" rx="1.4" ry="2.4" stroke-width="1.22" fill="#161616" transform="rotate(-24 424 486)" />
<path d="M459.5,465.5 Q463.5,469.5 462.0,475.1" stroke-width="1.8"/>
<path d="M363,498 Q377,492 390,498 L390,510 L384,524 L370,524 L364,512Z" stroke-width="2.2" fill="#f9fbf8" />
<path d="M369.6,502 L369.6,463 Q370,457 377,456.5 Q384,457 384,463 L384,502" stroke-width="2.44" fill="#f9fbf8" />
<path d="M380,462 Q372,462 372,470 Q372,478 380,478" stroke-width="1.83" fill="none" />
<path d="M369.6,484 L384,484" stroke-width="1.34" fill="none" />
<path d="M369,503 Q377,507 385,503" stroke-width="1.59" fill="none" />
<path d="M252,489 L252,540 M258,492 L258,540" stroke-width="2.2" fill="none" />
<path d="M372,552 L372,596 M377.6,552 L377.6,598" stroke-width="2.2" fill="none" />
<path d="M332.8,578 L337,607 L376,593" stroke-width="2.2" fill="none" />
<path d="M340,582 L343,600 L372,589" stroke-width="1.46" fill="none" />
<ellipse cx="359.4" cy="585.8" rx="10.5" ry="10" stroke-width="2.32" fill="#f9fbf8" />
<g transform="rotate(-20 359.4 585.8)">
<path d="M351.5,582.3 Q359.4,575.8 367.8,583.3 M353.1,590.3 Q360.4,583.8 368.3,588.8" stroke-width="1.71" fill="none" />
<path d="M357.3,577.8 Q360.4,585.8 358.3,593.8" stroke-width="1.34" fill="none" />
</g>
<path d="M268,506 Q262,522 280,536 Q300,548 330,546 L344,534 L342,512 L306,522Z" stroke-width="1.46" fill="url(#st2)" />
<path d="M268,506 Q262,522 280,536 Q300,548 330,546 L344,534 L342,512 L306,522Z" stroke-width="0.12" fill="url(#st)" style="stroke:none"/>
<path d="M280,536 Q300,548 330,546 L344,534" stroke-width="2.2" fill="none" />
<path d="M240,480 L254,461 L300,465 L350,498 L334,510 Q320,518 305,518Z" stroke-width="0.12" fill="#f9fbf8" style="stroke:none"/>
<path d="M240,481 L248,470 Q252,462 258,462 L276,459 L300,465" stroke-width="2.07" fill="none" />
<path d="M300,465.5 L363,497.5" stroke-width="3.42" fill="none" />
<path d="M239.6,481.5 L305,518.6 Q312,520 320,516 L334,510 Q342,504 350,499" stroke-width="4.88" fill="none" />
<path d="M241.5,482 L305,518 Q312,519.5 320,515.5 L334,509.5" stroke-width="1.0" style="stroke:#f9fbf8"/>
<path d="M272.5,461.5 L272.5,464.0 Q279,469.5 285.5,464.0 L285.5,461.5" stroke-width="1.83" fill="#f9fbf8" />
<ellipse cx="279" cy="461.5" rx="6.5" ry="4.6" stroke-width="2.07" fill="#f9fbf8" />
<path d="M300.5,479 L300.5,481.5 Q307,487 313.5,481.5 L313.5,479" stroke-width="1.83" fill="#f9fbf8" />
<ellipse cx="307" cy="479" rx="6.5" ry="4.6" stroke-width="2.07" fill="#f9fbf8" />
<path d="M274.5,493.5 L274.5,496.0 Q281,501.5 287.5,496.0 L287.5,493.5" stroke-width="1.83" fill="#f9fbf8" />
<ellipse cx="281" cy="493.5" rx="6.5" ry="4.6" stroke-width="2.07" fill="#f9fbf8" />
<path d="M241.5,478 L241.5,480.5 Q248,486 254.5,480.5 L254.5,478" stroke-width="1.83" fill="#f9fbf8" />
<ellipse cx="248" cy="478" rx="6.5" ry="4.6" stroke-width="2.07" fill="#f9fbf8" />
<path d="M256,466 Q262,460 268,464 M258,470 L272,463 M262,473 L276,466" stroke-width="1.95" fill="none" />
<path d="M250,470 Q248,458 259,457 Q265,458 264,463" stroke-width="2.93" fill="none" />
<path d="M256,475 Q254,466 263,464 Q269,464 267,470" stroke-width="2.2" fill="none" />
<path d="M271,503 Q259,512 265,525 Q272,536 287,538" stroke-width="8.05" fill="none" />
<path d="M271,503 Q259,512 265,525 Q272,536 287,538" stroke-width="2.8" style="stroke:#f9fbf8"/>
<path d="M340,508 Q350,500 356,506 L366,533 L350,529" stroke-width="2.07" fill="none" />
<ellipse cx="347" cy="508.5" rx="3.6" ry="3" stroke-width="1.95" fill="#f9fbf8" />
<ellipse cx="347" cy="508.5" rx="1.2" ry="1" stroke-width="1.22" fill="#161616" />
<path d="M288,538 L288,552 M296,540 L296,556 M314,544 L314,560 M322,544 L322,560 M328,542 L328,558 M334,540 L334,556" stroke-width="2.2" fill="none" />
<path d="M286,552 Q306,562 336,552" stroke-width="1.95" fill="none" />
<path d="M300,528 Q306,522 312,528 L312,540 L300,540Z" stroke-width="1.71" fill="#f9fbf8" />
<path d="M343,530 Q340,539 346,546 L403,526 Q408,517 401,510 Q394,507 343,530Z" stroke-width="2.44" fill="#f9fbf8" />
<path d="M344,543 L403,523 L403,536 L344,556Z" stroke-width="2.44" fill="#f9fbf8" />
<path d="M344,546.2 L403,526.2" stroke-width="2.07" fill="none" />
<path d="M344,549.5 L403,529.5" stroke-width="2.07" fill="none" />
<path d="M344,552.8 L403,532.8" stroke-width="2.07" fill="none" />
<ellipse cx="353.8" cy="538" rx="5.5" ry="4.4" stroke-width="2.07" fill="#f9fbf8" />
<ellipse cx="353.8" cy="538" rx="2.4" ry="1.9" stroke-width="1.22" fill="#161616" />
<ellipse cx="392" cy="519.5" rx="5.5" ry="4.4" stroke-width="2.07" fill="#f9fbf8" />
<ellipse cx="392" cy="519.5" rx="2.4" ry="1.9" stroke-width="1.22" fill="#161616" />
<path d="M346,558 L347,566 L362,562 L362,553" stroke-width="1.95" fill="#f9fbf8" />
<path d="M350,566 L350,574 L358,572 L358,564" stroke-width="1.59" fill="none" />
<path d="M313,568 L343,554.8 L350.2,565.6 L313,584.8Z" stroke-width="2.32" fill="#f9fbf8" />
<path d="M256,580 Q253,590 259,596 L312,577 Q317,568 310,561 Q300,558 256,580Z" stroke-width="2.44" fill="#f9fbf8" />
<path d="M256,593 L312,573 L312,587 L256,607Z" stroke-width="2.44" fill="#f9fbf8" />
<path d="M256,596.5 L312,576.5" stroke-width="2.07" fill="none" />
<path d="M256,600.0 L312,580.0" stroke-width="2.07" fill="none" />
<path d="M256,603.5 L312,583.5" stroke-width="2.07" fill="none" />
<ellipse cx="265" cy="580" rx="5.5" ry="4.4" stroke-width="2.07" fill="#f9fbf8" />
<ellipse cx="265" cy="580" rx="2.4" ry="1.9" stroke-width="1.22" fill="#161616" />
<ellipse cx="303.4" cy="564.4" rx="5.5" ry="4.4" stroke-width="2.07" fill="#f9fbf8" />
<ellipse cx="303.4" cy="564.4" rx="2.4" ry="1.9" stroke-width="1.22" fill="#161616" />
<path d="M262,607 L263,616 L280,612 L280,601" stroke-width="1.95" fill="#f9fbf8" />
<path d="M256,600 L256,612 L262,616" stroke-width="1.71" fill="none" />
<path d="M262,545 Q288,548 291,572 L291.4,582" stroke-width="7.81" fill="none" />
<path d="M262,545 Q288,548 291,572 L291.4,582" stroke-width="3.0" style="stroke:#f9fbf8"/>
<path d="M255,546 Q262,540 270,546 L270,552 L256,556Z" stroke-width="1.95" fill="#f9fbf8" />
<ellipse cx="263" cy="547" rx="4.2" ry="3.4" stroke-width="1.83" fill="#f9fbf8" />
<ellipse cx="263" cy="547" rx="1.5" ry="1.2" stroke-width="1.22" fill="#161616" />
<path d="M272,552 L284,548 L284,560 L272,564Z" stroke-width="1.83" fill="none" />
<path d="M300,586 L300,598 L312,594" stroke-width="1.83" fill="none" />
<path d="M255,618 L268,612 L262,604Z" stroke-width="1.46" fill="#161616" />
<path d="M326,582 L326,616 M330,582 L330,614" stroke-width="2.07" fill="none" />
<path d="M337,578 L337,604" stroke-width="1.71" fill="none" />
<path d="M290.2,599 Q304,622 324,631" stroke-width="5.37" fill="none" />
<path d="M290.2,599 Q304,622 324,631" stroke-width="1.4" style="stroke:#f9fbf8"/>
<path d="M300,620 Q320,646 352,626" stroke-width="1.83" fill="none" />
<path d="M160,540 L160,618 M167,544 L167,615" stroke-width="2.32" fill="none" />
<path d="M160,618 L240,662 L290,640" stroke-width="2.44" fill="none" />
<path d="M167,615 L236,652" stroke-width="1.71" fill="none" />
<path d="M181,566 L181,622 Q190,640 234,642 L234,586 Z" stroke-width="0.12" fill="#f9fbf8" style="stroke:none"/>
<line x1="181" y1="566" x2="181" y2="622" stroke-width="2.44"/>
<path d="M181,622 Q186,636 210,640 Q228,642 236,640" stroke-width="2.68" fill="none" />
<path d="M186,632 Q196,644 234,648" stroke-width="1.95" fill="none" />
<path d="M190,640 Q200,650 232,654" stroke-width="1.46" fill="none" />
<line x1="184.4" y1="578.7" x2="184.5" y2="593.7" stroke-width="1.34"/>
<line x1="183.4" y1="599.4" x2="184.0" y2="615.8" stroke-width="1.34"/>
<line x1="184.5" y1="620.7" x2="183.5" y2="634.9" stroke-width="1.34"/>
<line x1="187.1" y1="578.2" x2="187.1" y2="589.1" stroke-width="1.34"/>
<line x1="186.7" y1="595.4" x2="187.5" y2="606.2" stroke-width="1.34"/>
<line x1="187.4" y1="620.0" x2="186.6" y2="630.2" stroke-width="1.34"/>
<line x1="189.4" y1="579.4" x2="190.4" y2="589.4" stroke-width="1.34"/>
<line x1="190.6" y1="597.0" x2="190.4" y2="607.7" stroke-width="1.34"/>
<line x1="190.0" y1="617.5" x2="190.2" y2="634.1" stroke-width="1.34"/>
<line x1="193.2" y1="577.3" x2="193.6" y2="593.8" stroke-width="1.34"/>
<line x1="192.8" y1="601.4" x2="192.6" y2="612.8" stroke-width="1.34"/>
<line x1="192.8" y1="617.0" x2="193.1" y2="626.5" stroke-width="1.34"/>
<line x1="195.8" y1="576.5" x2="195.8" y2="590.9" stroke-width="1.34"/>
<line x1="195.8" y1="601.4" x2="196.0" y2="614.2" stroke-width="1.34"/>
<line x1="196.6" y1="620.7" x2="195.4" y2="630.1" stroke-width="1.34"/>
<line x1="198.4" y1="581.3" x2="199.3" y2="597.1" stroke-width="1.34"/>
<line x1="198.4" y1="599.0" x2="198.5" y2="612.6" stroke-width="1.34"/>
<line x1="198.6" y1="617.9" x2="199.3" y2="634.5" stroke-width="1.34"/>
<line x1="201.8" y1="582.7" x2="201.8" y2="599.3" stroke-width="1.34"/>
<line x1="201.5" y1="600.3" x2="202.3" y2="615.5" stroke-width="1.34"/>
<line x1="201.4" y1="621.9" x2="202.5" y2="637.8" stroke-width="1.34"/>
<line x1="205.1" y1="578.1" x2="205.5" y2="589.8" stroke-width="1.34"/>
<line x1="205.1" y1="599.6" x2="204.8" y2="616.0" stroke-width="1.34"/>
<line x1="204.5" y1="619.4" x2="204.6" y2="629.8" stroke-width="1.34"/>
<line x1="207.6" y1="582.0" x2="207.5" y2="599.0" stroke-width="1.34"/>
<line x1="207.9" y1="603.8" x2="207.7" y2="617.1" stroke-width="1.34"/>
<line x1="207.9" y1="621.4" x2="207.9" y2="637.1" stroke-width="1.34"/>
<line x1="210.4" y1="578.6" x2="211.0" y2="594.9" stroke-width="1.34"/>
<line x1="211.3" y1="603.3" x2="211.5" y2="613.3" stroke-width="1.34"/>
<line x1="210.5" y1="622.0" x2="210.9" y2="637.3" stroke-width="1.34"/>
<line x1="213.8" y1="579.5" x2="213.9" y2="595.3" stroke-width="1.34"/>
<line x1="214.6" y1="604.6" x2="213.9" y2="620.4" stroke-width="1.34"/>
<line x1="214.0" y1="621.5" x2="213.7" y2="636.4" stroke-width="1.34"/>
<line x1="216.9" y1="581.4" x2="217.6" y2="591.6" stroke-width="1.34"/>
<line x1="217.0" y1="604.7" x2="216.8" y2="618.7" stroke-width="1.34"/>
<line x1="217.3" y1="619.5" x2="217.4" y2="630.7" stroke-width="1.34"/>
<line x1="220.3" y1="581.5" x2="220.2" y2="596.8" stroke-width="1.34"/>
<line x1="219.8" y1="603.3" x2="220.2" y2="618.4" stroke-width="1.34"/>
<line x1="220.3" y1="621.0" x2="220.2" y2="633.9" stroke-width="1.34"/>
<line x1="223.2" y1="581.4" x2="223.1" y2="598.0" stroke-width="1.34"/>
<line x1="222.7" y1="599.7" x2="223.2" y2="613.1" stroke-width="1.34"/>
<line x1="223.2" y1="622.5" x2="223.4" y2="638.0" stroke-width="1.34"/>
<line x1="226.3" y1="582.1" x2="226.4" y2="596.3" stroke-width="1.34"/>
<line x1="226.4" y1="602.1" x2="226.2" y2="617.9" stroke-width="1.34"/>
<line x1="226.0" y1="625.9" x2="226.0" y2="638" stroke-width="1.34"/>
<line x1="229.5" y1="581.4" x2="229.0" y2="597.1" stroke-width="1.34"/>
<line x1="229.3" y1="604.5" x2="228.6" y2="619.3" stroke-width="1.34"/>
<line x1="229.2" y1="625.1" x2="228.9" y2="638" stroke-width="1.34"/>
<line x1="232.2" y1="584.5" x2="232.3" y2="599.7" stroke-width="1.34"/>
<line x1="231.9" y1="600.9" x2="232.2" y2="611.2" stroke-width="1.34"/>
<line x1="232.2" y1="622.1" x2="231.5" y2="636.6" stroke-width="1.34"/>
<path d="M179,550 Q176,566 186,574 Q206,586 236,584 L252,576 L254,548 L216,564Z" stroke-width="1.71" fill="url(#st2)" />
<path d="M179,550 Q176,566 186,574 Q206,586 236,584 L252,576 L254,548 L216,564Z" stroke-width="0.12" fill="url(#st)" style="stroke:none"/>
<path d="M180,566 Q200,582 236,584 L252,577" stroke-width="2.32" fill="none" />
<path d="M236,588 L236,660 L248,655 L248,584Z" stroke-width="2.2" fill="#f9fbf8" />
<path d="M240,592 L240,652" stroke-width="1.34" fill="none" />
<path d="M254,600 L254,652 M284,602 L284,648" stroke-width="2.07" fill="none" />
<path d="M248,655 L290,638" stroke-width="2.2" fill="none" />
<path d="M258,640 L258,606 L280,610 L280,634Z" stroke-width="1.59" fill="none" />
<ellipse cx="268" cy="628" rx="10.5" ry="10.5" stroke-width="2.32" fill="#f9fbf8" />
<g transform="rotate(-15 268 628)">
<path d="M260.1,624.3 Q268.0,617.5 276.4,625.4 M261.7,632.7 Q269.1,625.9 276.9,631.1" stroke-width="1.71" fill="none" />
<path d="M265.9,619.6 Q269.1,628.0 266.9,636.4" stroke-width="1.34" fill="none" />
</g>
<path d="M147,528 L160,510 L216,512 L254,542 L236,558 Q226,566 216,564Z" stroke-width="0.12" fill="#f9fbf8" style="stroke:none"/>
<path d="M147,528 L154,518 Q158,510 166,510 L190,506 L216,512 L256,536" stroke-width="2.07" fill="none" />
<path d="M146.5,529.5 L216,564.5 Q224,566 232,560 L254,547" stroke-width="5.12" fill="none" />
<path d="M148.5,530 L216,564 Q224,565.5 232,559.5 L252,547.5" stroke-width="1.0" style="stroke:#f9fbf8"/>
<path d="M149,522 L149,524.5 Q156,530 163,524.5 L163,522" stroke-width="1.83" fill="#f9fbf8" />
<ellipse cx="156" cy="522" rx="7" ry="4.8" stroke-width="2.07" fill="#f9fbf8" />
<path d="M182,507 L182,509.5 Q189,515 196,509.5 L196,507" stroke-width="1.83" fill="#f9fbf8" />
<ellipse cx="189" cy="507" rx="7" ry="4.8" stroke-width="2.07" fill="#f9fbf8" />
<path d="M211,523 L211,525.5 Q218,531 225,525.5 L225,523" stroke-width="1.83" fill="#f9fbf8" />
<ellipse cx="218" cy="523" rx="7" ry="4.8" stroke-width="2.07" fill="#f9fbf8" />
<path d="M182,537 L182,539.5 Q189,545 196,539.5 L196,537" stroke-width="1.83" fill="#f9fbf8" />
<ellipse cx="189" cy="537" rx="7" ry="4.8" stroke-width="2.07" fill="#f9fbf8" />
<path d="M164,512 Q170,506 176,510 M167,517 L180,510 M170,521 L184,513" stroke-width="1.95" fill="none" />
<path d="M159,515 Q157,503 168,502 Q174,503 173,508" stroke-width="2.93" fill="none" />
<path d="M165,520 Q163,510 172,508 Q178,508 176,514" stroke-width="2.2" fill="none" />
<path d="M173,512 L185,520 M176,508 L186,515" stroke-width="1.95" fill="none" />
<path d="M226,518 Q234,514 238,522 Q240,530 234,532 M230,522 Q234,524 232,528" stroke-width="1.83" fill="none" />
<ellipse cx="138.8" cy="624" rx="10" ry="9" stroke-width="2.32" fill="#f9fbf8" />
<g transform="rotate(-25 138.8 624)">
<path d="M131.3,620.9 Q138.8,615.0 146.8,621.8 M132.8,628.0 Q139.8,622.2 147.3,626.7" stroke-width="1.71" fill="none" />
<path d="M136.8,616.8 Q139.8,624.0 137.8,631.2" stroke-width="1.34" fill="none" />
</g>
<ellipse cx="218.8" cy="672" rx="9.5" ry="7.5" stroke-width="2.32" fill="#f9fbf8" />
<g transform="rotate(-25 218.8 672)">
<path d="M211.7,669.4 Q218.8,664.5 226.4,670.1 M213.1,675.4 Q219.8,670.5 226.9,674.2" stroke-width="1.71" fill="none" />
<path d="M216.9,666.0 Q219.8,672.0 217.9,678.0" stroke-width="1.34" fill="none" />
</g>
<ellipse cx="243.6" cy="681" rx="7.5" ry="6" stroke-width="2.2" fill="#f9fbf8" />
<ellipse cx="243.6" cy="681.5" rx="4" ry="3" stroke-width="1.59" fill="none" />
<ellipse cx="172.4" cy="653" rx="3.8" ry="2.4" stroke-width="1.46" fill="none" />
<ellipse cx="186.8" cy="657" rx="3.8" ry="2.4" stroke-width="1.46" fill="none" />
<path d="M196,660 L214,668 M200,656 L212,662" stroke-width="1.22" fill="none" />
<path d="M135.6,653 Q140,648 150,650 L164.5,665.5 Q168,676 158,680 Q144,684 135.6,670Z" stroke-width="2.07" fill="#f9fbf8" />
<ellipse cx="150" cy="655" rx="4.4" ry="2.4" stroke-width="1.59" fill="none" />
<path d="M135.6,670 Q142,682 156,681 Q166,678 165,668" stroke-width="2.68" fill="none" />
<path d="M321.6,669 L394.4,636 L394.4,688 L365,705 L322,722Z" stroke-width="2.2" fill="#f9fbf8" />
<path d="M325.6,673 L390,643 L390,686 L326,716Z" stroke-width="1.22" fill="url(#st)" />
<path d="M325.6,673 L390,643 L390,686 L326,716Z" stroke-width="0.12" fill="url(#st3)" style="stroke:none"/>
<path d="M325.6,673 L390,643" stroke-width="1.95" fill="none" />
<line x1="325.6" y1="673" x2="326" y2="716" stroke-width="1.83"/>
<path d="M426.4,612 L490,586 L497,582 L497,612 L428,657Z" stroke-width="2.2" fill="#f9fbf8" />
<path d="M430,616 L488,590 L488,612 L431,650Z" stroke-width="1.22" fill="url(#st)" />
<path d="M430,616 L488,590 L488,612 L431,650Z" stroke-width="0.12" fill="url(#st3)" style="stroke:none"/>
<path d="M430,616 L488,590" stroke-width="1.95" fill="none" />
<line x1="490" y1="586" x2="490" y2="612" stroke-width="1.83"/>
<path d="M322,722 L365,705 M415,679 L460,660 M256,757 L322,722" stroke-width="2.2" fill="none" />
<path d="M396,650 L426,636" stroke-width="1.59" fill="none" />
<path d="M397,652 L427,639 L428,656 L415,678 L398,660Z" stroke-width="0.12" fill="url(#st)" style="stroke:none"/>
<path d="M333,687 Q329,697 335,707 L347,709 L357,701 L357,681 L347,679Z" stroke-width="2.32" fill="#f9fbf8" />
<ellipse cx="348" cy="696" rx="2.6" ry="2.6" stroke-width="1.71" fill="none" />
<path d="M347,679 L347,671 L355,669 L361,675" stroke-width="1.83" fill="none" />
<path d="M359,685 L367,681 L373,685 L373,699 L365,703 L359,697Z" stroke-width="2.32" fill="#f9fbf8" />
<line x1="367" y1="681" x2="367" y2="701" stroke-width="1.46"/>
<g transform="rotate(26 373 693)">
<rect x="373" y="688" width="30" height="10" rx="2.5" stroke-width="1.9" fill="#f9fbf8"/>
<line x1="377" y1="688" x2="378" y2="698" stroke-width="1.8"/>
<line x1="382" y1="688" x2="383" y2="698" stroke-width="1.8"/>
<line x1="387" y1="688" x2="388" y2="698" stroke-width="1.8"/>
<line x1="392" y1="688" x2="393" y2="698" stroke-width="1.8"/>
<line x1="397" y1="688" x2="398" y2="698" stroke-width="1.8"/>
</g>
<path d="M367,673 L409,661 L415,665 L415,675 L373,688 L367,684Z" stroke-width="2.32" fill="#f9fbf8" />
<path d="M373,678 L415,665 M373,678 L373,688 M373,678 L367,673" stroke-width="1.71" fill="none" />
<path d="M383,680 L407,673" stroke-width="1.59" fill="none" />
<path d="M379,669 Q378,657 391,656 Q404,657 403,669 Q401,675 391,675 Q381,675 379,669Z" stroke-width="2.44" fill="#f9fbf8" />
<path d="M381,664 Q389,657 396,663 Q400,667 403,665 M383,668 Q389,661 394,666 Q398,670 402,669" stroke-width="1.59" fill="none" />
<path d="M379,670 Q391,679 403,670" stroke-width="1.59" fill="none" />
<path d="M426,640 Q422,650 428,660 L440,662 L450,654 L450,634 L440,632Z" stroke-width="2.32" fill="#f9fbf8" />
<ellipse cx="441" cy="649" rx="2.6" ry="2.6" stroke-width="1.71" fill="none" />
<path d="M440,632 L440,624 L448,622 L454,628" stroke-width="1.83" fill="none" />
<path d="M452,638 L460,634 L466,638 L466,652 L458,656 L452,650Z" stroke-width="2.32" fill="#f9fbf8" />
<line x1="460" y1="634" x2="460" y2="654" stroke-width="1.46"/>
<g transform="rotate(26 466 646)">
<rect x="466" y="641" width="30" height="10" rx="2.5" stroke-width="1.9" fill="#f9fbf8"/>
<line x1="470" y1="641" x2="471" y2="651" stroke-width="1.8"/>
<line x1="475" y1="641" x2="476" y2="651" stroke-width="1.8"/>
<line x1="480" y1="641" x2="481" y2="651" stroke-width="1.8"/>
<line x1="485" y1="641" x2="486" y2="651" stroke-width="1.8"/>
<line x1="490" y1="641" x2="491" y2="651" stroke-width="1.8"/>
</g>
<path d="M460,626 L502,614 L508,618 L508,628 L466,641 L460,637Z" stroke-width="2.32" fill="#f9fbf8" />
<path d="M466,631 L508,618 M466,631 L466,641 M466,631 L460,626" stroke-width="1.71" fill="none" />
<path d="M476,633 L500,626" stroke-width="1.59" fill="none" />
<path d="M472,622 Q471,610 484,609 Q497,610 496,622 Q494,628 484,628 Q474,628 472,622Z" stroke-width="2.44" fill="#f9fbf8" />
<path d="M474,617 Q482,610 489,616 Q493,620 496,618 M476,621 Q482,614 487,619 Q491,623 495,622" stroke-width="1.59" fill="none" />
<path d="M472,623 Q484,632 496,623" stroke-width="1.59" fill="none" />
<path d="M333,738 L350.5,749 L350.5,759.5 L336,767 L333,780 L320.6,788 L305,787 L300,772Z" stroke-width="2.32" fill="#f9fbf8" />
<path d="M258.2,766 L259.5,788 Q268,793 279,792.6 L287,788 L289.5,778 L292,788 L301,789.5 L310,771 L333.6,767 L333.6,744 L300,740Z" stroke-width="2.32" fill="#f9fbf8" />
<path d="M305,786.7 L310,771 M320.6,788 Q330,786 331,780 L333.6,767" stroke-width="1.95" fill="none" />
<path d="M301,789.5 Q312,792 320.6,788" stroke-width="1.95" fill="none" />
<path d="M258.2,764.6 Q262,752 279,743.8 Q284,737 289.4,733.4 Q295,727 302.4,726.3 L318,726.3 Q328,729 331,734.7 Q334,739 333.6,743.8 Q328,749 318,750.3 L302.4,753 Q297,756 297.2,759.4 L297.2,771 Q294,776 289.4,777.6 L279,781 Q266,781 260.8,777.6 Q257,772 258.2,764.6Z" stroke-width="2.44" fill="#f9fbf8" />
<path d="M302.4,755.5 L331,749 L331,762 L303,768Z" stroke-width="1.46" fill="url(#st)" />
<path d="M289.4,777.6 L289.4,788 M297.2,771 L310,771" stroke-width="1.71" fill="none" />
<path d="M280,745 L296,756 M300,741 L283,750" stroke-width="1.22" fill="none" />
<ellipse cx="310.2" cy="738" rx="11.7" ry="6.5" stroke-width="2.44" fill="#f9fbf8" />
<ellipse cx="310.5" cy="738.5" rx="8" ry="4" stroke-width="1.59" fill="none" />
<path d="M304,737 L317,737 M305,740 L316,740" stroke-width="1.46" fill="none" />
<ellipse cx="273.2" cy="763.3" rx="13" ry="10.5" stroke-width="2.56" fill="#f9fbf8" />
<path d="M264,760 Q270,753 277,757 Q282,761 284,767 M266,766 Q272,760 278,764" stroke-width="1.71" fill="none" />
<path d="M275,756 Q278,762 276,770" stroke-width="1.46" fill="none" />
<path d="M260.5,769 Q272,780 286,770" stroke-width="1.71" fill="none" />
<path d="M497.8,648.7 L534.2,661.7 L573.2,647.4 L590,639.6 L604.4,624 L604.4,632 L590,647 L573.2,655.5 L534.2,669.5 L496.5,653Z" stroke-width="2.44" fill="#f9fbf8" />
<line x1="534.2" y1="661.7" x2="534.2" y2="669.5" stroke-width="1.95"/>
<line x1="573.2" y1="647.4" x2="573.2" y2="655.5" stroke-width="1.71"/>
<line x1="590" y1="639.6" x2="590" y2="647" stroke-width="1.71"/>
<path d="M551,660 Q553,670 564,669.5 Q574,668 576,657 L575.8,652 L551,661Z" stroke-width="1.71" fill="#161616" />
<path d="M556,661 Q562,664 570,657" stroke-width="1.46" fill="none" style="stroke:#f9fbf8"/>
<path d="M497.8,648.7 L548,608 L576,608 L580,616 L602,612 L604.4,612.5 L604.4,624 L590,630.5 L590,639.6 L573.2,647.4 L534.2,661.7Z" stroke-width="2.44" fill="#f9fbf8" />
<path d="M505,642 L527,628" stroke-width="1.22" fill="none" />
<path d="M525,626 L526.4,639.6 Q535,648 552.4,650 Q566,648 573,639.6 L572,626Z" stroke-width="2.32" fill="#f9fbf8" />
<path d="M552.4,650 Q566,648 573,639.6 L572,628 Q562,640 550,640Z" stroke-width="0.73" fill="#161616" />
<path d="M529,634 Q536,642 548,644 M528,630 Q534,638 544,640" stroke-width="1.46" fill="none" />
<ellipse cx="548.5" cy="625.3" rx="23.4" ry="14.3" stroke-width="2.68" fill="#f9fbf8" />
<ellipse cx="549.8" cy="624" rx="11.7" ry="7.2" stroke-width="2.93" fill="none" />
<ellipse cx="550.5" cy="624.5" rx="8" ry="4.6" stroke-width="1.46" fill="none" />
<path d="M576,608 Q577,616 588.8,617 Q600,616 601.5,608 L601.5,603 L576,603Z" stroke-width="1.95" fill="#f9fbf8" />
<path d="M576,604.5 Q575,595 588.8,594 Q602,595 601.8,604.5 Q600,611 588.8,612 Q578,611 576,604.5Z" stroke-width="2.44" fill="#f9fbf8" />
<path d="M579,602 Q584,596 590,598 Q586,602 586,608 Q582,608 579,602Z" stroke-width="1.46" fill="none" />
<path d="M592,597.5 Q598,599 599.5,606 Q596,607 594,603 Q593.5,600 592,597.5Z" stroke-width="1.46" fill="none" />
<path d="M577,607 Q588,616 601,607" stroke-width="1.46" fill="none" />
<line x1="44" y1="279.7" x2="153" y2="228" stroke-width="1.52"/>
<line x1="43" y1="319" x2="95" y2="289" stroke-width="1.52"/>
<line x1="41.6" y1="383" x2="140" y2="374.7" stroke-width="1.52"/>
<line x1="40" y1="434.8" x2="180" y2="454" stroke-width="1.52"/>
<line x1="37.8" y1="639.7" x2="81.7" y2="623" stroke-width="1.52"/>
<line x1="33" y1="689.6" x2="240" y2="588" stroke-width="1.52"/>
<line x1="33" y1="716.8" x2="150" y2="648" stroke-width="1.52"/>
<line x1="33" y1="748.6" x2="138" y2="669" stroke-width="1.52"/>
<line x1="31.8" y1="797" x2="212" y2="682" stroke-width="1.52"/>
<line x1="30.3" y1="877" x2="260" y2="762" stroke-width="1.52"/>
<line x1="539" y1="345.5" x2="400" y2="452" stroke-width="1.52"/>
<line x1="540" y1="386" x2="476" y2="426" stroke-width="1.52"/>
<line x1="539" y1="422" x2="472" y2="465" stroke-width="1.52"/>
<line x1="539" y1="464.4" x2="460" y2="500" stroke-width="1.52"/>
<line x1="585.5" y1="515" x2="568" y2="527" stroke-width="1.52"/>
<line x1="588" y1="560.5" x2="581" y2="598" stroke-width="1.52"/>
<line x1="588" y1="560.5" x2="498" y2="614" stroke-width="1.52"/>
<line x1="529.6" y1="700" x2="495" y2="661" stroke-width="1.52"/>
<line x1="529.6" y1="700" x2="417" y2="677" stroke-width="1.52"/>
<line x1="530.7" y1="781" x2="332" y2="737" stroke-width="1.52"/>
<line x1="528.6" y1="837" x2="335" y2="771" stroke-width="1.52"/>
<line x1="844" y1="470.6" x2="972" y2="472" stroke-width="1.52"/>
<line x1="801" y1="503.5" x2="970.3" y2="500.4" stroke-width="1.52"/>
<line x1="569" y1="401" x2="590" y2="401" stroke-width="1.52"/>
<path d="M184,454.5 L250,463" stroke-width="1.2" style="stroke-dasharray:9 5 2 5"/>
<path d="M546,319 L569,319 L568,401 L566,482 L545,482" stroke-width="1.83" fill="none" />
<text class="num" x="25" y="289" font-size="16.5" textLength="14.6" lengthAdjust="spacingAndGlyphs">10</text>
<text class="num" x="27" y="328" font-size="16.5" textLength="9.4" lengthAdjust="spacingAndGlyphs">9</text>
<text class="num" x="25" y="394" font-size="16.5" textLength="9.4" lengthAdjust="spacingAndGlyphs">8</text>
<text class="num" x="25" y="441" font-size="16.5" textLength="8.9" lengthAdjust="spacingAndGlyphs">7</text>
<text class="num" x="22.5" y="653" font-size="16.5" textLength="7.5" lengthAdjust="spacingAndGlyphs">6</text>
<text class="num" x="19.5" y="706" font-size="16.5" textLength="8.5" lengthAdjust="spacingAndGlyphs">5</text>
<text class="num" x="18.8" y="727.4" font-size="16.5" textLength="8.9" lengthAdjust="spacingAndGlyphs">4</text>
<text class="num" x="17.5" y="762" font-size="16.5" textLength="8.9" lengthAdjust="spacingAndGlyphs">3</text>
<text class="num" x="17.5" y="813.6" font-size="16.5" textLength="8.9" lengthAdjust="spacingAndGlyphs">2</text>
<text class="num" x="21" y="891" font-size="16.5" textLength="7.5" lengthAdjust="spacingAndGlyphs">1</text>
<text class="num" x="593" y="407.6" font-size="16.5" textLength="15.0" lengthAdjust="spacingAndGlyphs">11</text>
<text class="num" x="543" y="347" font-size="16.5" textLength="13.2" lengthAdjust="spacingAndGlyphs">12</text>
<text class="num" x="543" y="391.6" font-size="16.5" textLength="14.1" lengthAdjust="spacingAndGlyphs">13</text>
<text class="num" x="543" y="426" font-size="16.5" textLength="14.1" lengthAdjust="spacingAndGlyphs">14</text>
<text class="num" x="542" y="467" font-size="16.5" textLength="13.6" lengthAdjust="spacingAndGlyphs">15</text>
<text class="num" x="588.5" y="517.4" font-size="16.5" textLength="15.0" lengthAdjust="spacingAndGlyphs">16</text>
<text class="num" x="591" y="560" font-size="16.5" textLength="15.0" lengthAdjust="spacingAndGlyphs">17</text>
<text class="num" x="536" y="713" font-size="16.5" textLength="14.6" lengthAdjust="spacingAndGlyphs">18</text>
<text class="num" x="533" y="789.6" font-size="16.5" textLength="14.6" lengthAdjust="spacingAndGlyphs">19</text>
<text class="num" x="531.8" y="844.7" font-size="16.5" textLength="16.4" lengthAdjust="spacingAndGlyphs">20</text>
<text class="num" x="973.7" y="478.3" font-size="16.5" textLength="16.0" lengthAdjust="spacingAndGlyphs">21</text>
<text class="num" x="973.7" y="507.2" font-size="16.5" textLength="17.4" lengthAdjust="spacingAndGlyphs">22</text>
<text class="cap" x="394.4" y="876.8" font-size="24" textLength="41" lengthAdjust="spacingAndGlyphs">Рис.</text>
<text class="cap" x="447.5" y="876.8" font-size="24" textLength="28.5" lengthAdjust="spacingAndGlyphs">50.</text>
<text class="cap" x="486.5" y="876.8" font-size="24" textLength="46.5" lengthAdjust="spacingAndGlyphs">Реле</text>
<text class="cap" x="544.4" y="876.8" font-size="24" textLength="102.6" lengthAdjust="spacingAndGlyphs">регулятор</text>
<path d="M983,9 l2,-3 l4,0 l1,3 M992.5,8 l7.5,0" stroke-width="1.4" style="stroke:#8a8a8a"/>
<g id="wm" fill="none" stroke-width="1.2" style="mix-blend-mode:multiply">
<circle cx="274" cy="450" r="58" style="stroke:#d6d8d6"/><circle cx="274" cy="450" r="41" style="stroke:#d6d8d6"/>
<path d="M240,452 q2,-22 26,-26 q22,-2 32,14 q-16,-12 -34,-4 q-16,8 -14,26 q4,18 24,22 q18,2 28,-12 q-2,20 -24,26 q-24,4 -36,-18 q-4,-14 -2,-28z" style="stroke:#d6d8d6"/>
<path d="M258,452 q2,-14 18,-14 q12,2 14,12 q-8,-6 -16,-2 q-8,6 -2,16 q8,8 18,0 q-4,14 -18,12 q-14,-4 -14,-24z" style="stroke:#d6d8d6"/>
<text x="345" y="485" font-size="112" textLength="370" lengthAdjust="spacingAndGlyphs" style="fill:none;stroke:#d8dad8;stroke-width:1.2;font-family:'Liberation Sans',sans-serif">белагро</text>
<text x="355.5" y="526" font-size="25" textLength="270" lengthAdjust="spacingAndGlyphs" style="fill:#dfe0df;stroke:#bcbebc;stroke-width:0.8;font-family:'Liberation Sans',sans-serif">ГРУППА КОМПАНИЙ</text>
</g>
</g>
</svg>
</body></html>
